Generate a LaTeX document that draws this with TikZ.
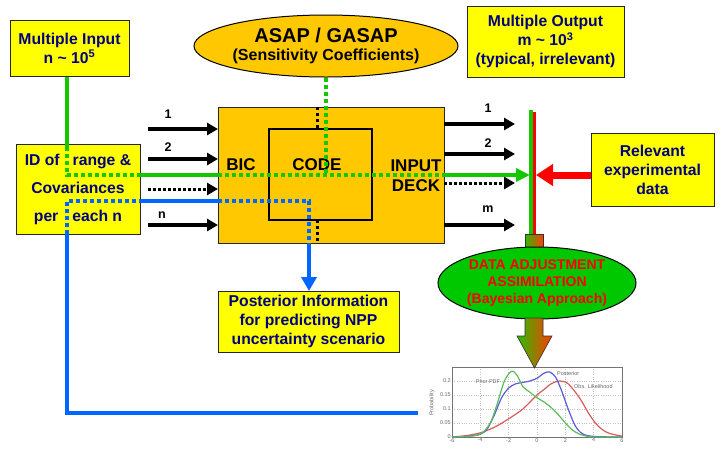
\documentclass[tikz,border=0pt]{standalone}
\usepackage{fontspec}
\setmainfont{Liberation Sans}
\usetikzlibrary{arrows.meta,shapes.geometric,calc}

\definecolor{navy}{RGB}{0,0,128}
\definecolor{boxyellow}{RGB}{255,255,0}
\definecolor{gold}{RGB}{255,200,0}
\definecolor{linegreen}{RGB}{20,200,0}
\definecolor{lineblue}{RGB}{0,102,255}
\definecolor{ellgreen}{RGB}{0,200,0}
\definecolor{shaftgreen}{RGB}{40,190,0}
\definecolor{shaftred}{RGB}{255,60,0}
\definecolor{pdfgreen}{RGB}{90,190,90}
\definecolor{pdfblue}{RGB}{90,90,220}
\definecolor{pdfred}{RGB}{220,90,90}

\tikzset{
  ybox/.style={draw=black!85, line width=0.9pt, fill=boxyellow, text=navy,
    font=\bfseries\fontsize{15.7}{19}\selectfont, align=center, inner sep=0pt},
  lbl/.style={font=\bfseries\fontsize{17}{20}\selectfont, inner sep=0pt, align=center},
  arrlbl/.style={font=\bfseries\fontsize{12.5}{14}\selectfont, inner sep=0pt},
  gsolid/.style={linegreen, line width=3.5pt},
  gdot/.style={linegreen, line width=3.5pt, dash pattern=on 4pt off 3pt},
  bsolid/.style={lineblue, line width=3.5pt},
  bdot/.style={lineblue, line width=3.5pt, dash pattern=on 4pt off 3pt},
  kdot/.style={black, line width=3pt, dash pattern=on 3pt off 3pt},
  karrow/.style={black, line width=3.5pt, -{Triangle[length=11pt,width=12pt]}},
  kdotarrow/.style={black, line width=3pt, dash pattern=on 3pt off 2pt,
    -{Triangle[length=11pt,width=12pt]}},
  gridl/.style={black!25, line width=0.4pt, dotted},
  ticklbl/.style={font=\fontsize{5.5}{6}\selectfont, text=black!60, inner sep=1pt},
  curve/.style={line width=1.2pt, smooth},
}

\begin{document}
\begin{tikzpicture}[x=1pt,y=-1pt]
\useasboundingbox (0,0) rectangle (724,448);

% ---------- boxes ----------
\node[ybox, minimum width=119pt, minimum height=56pt] (mi) at (69.5,48)
  {Multiple Input\\n \textasciitilde{} 10\textsuperscript{5}};
\node[ybox, minimum width=124pt, minimum height=90pt,
      font=\bfseries\fontsize{15.7}{28}\selectfont] (idb) at (78,189)
  {ID of\hspace{13pt}range \&\\Covariances\\per\hspace{14pt}each n};
\node[ellipse, draw=black, line width=1pt, fill=gold, minimum width=226pt,
      minimum height=62pt, inner sep=0pt, align=center,
      font=\bfseries\fontsize{16}{17.5}\selectfont] (asap) at (326,46)
  {{\fontsize{20}{20}\selectfont ASAP / GASAP}\\
   (Sensitivity Coefficients)};
\node[draw=black!85, line width=1pt, fill=gold, minimum width=226pt,
      minimum height=136pt, inner sep=0pt] (bic) at (331,175) {};
\node[draw=black, line width=2pt, minimum width=103pt, minimum height=91pt,
      inner sep=0pt] (code) at (320.5,174.5) {};
\node[lbl] (tbic) at (241,165) {BIC};
\node[lbl] (tcode) at (317,165) {CODE};
\node[lbl] (tinp) at (416,176) {INPUT\\DECK};
\node[ybox, minimum width=157pt, minimum height=71pt] (mo) at (545.5,41.5)
  {Multiple Output\\m \textasciitilde{} 10\textsuperscript{3}\\(typical, irrelevant)};
\node[ybox, minimum width=123pt, minimum height=73pt] (rel) at (652.5,169.5)
  {Relevant\\experimental\\data};
\node[ybox, minimum width=181pt, minimum height=61pt] (post) at (308.5,321.5)
  {Posterior Information\\for predicting NPP\\uncertainty scenario};

% ---------- input and output arrows ----------
\foreach \n/\yy in {i1/129,i2/159,i3/189,i4/225}{
  \coordinate (\n s) at (148,\yy); \coordinate (\n e) at (218,\yy);}
\foreach \n/\yy in {o1/124,o2/154,o3/183,o4/225}{
  \coordinate (\n s) at (444,\yy); \coordinate (\n e) at (515,\yy);}
\draw[karrow] (i1s) -- (i1e);
\draw[karrow] (i2s) -- (i2e);
\draw[kdotarrow] (i3s) -- (i3e);
\draw[karrow] (i4s) -- (i4e);
\draw[karrow] (o1s) -- (o1e);
\draw[karrow] (o2s) -- (o2e);
\draw[kdotarrow] (o3s) -- (o3e);
\draw[karrow] (o4s) -- (o4e);
\node[arrlbl] (li1) at (168,114) {1};
\node[arrlbl] (li2) at (168,147) {2};
\node[arrlbl] (li4) at (162,215) {n};
\node[arrlbl] (lo1) at (488,108) {1};
\node[arrlbl] (lo2) at (488,143) {2};
\node[arrlbl] (lo4) at (488,209) {m};

% ---------- black dotted links through the code box ----------
\coordinate (k1) at (317,107); \coordinate (k2) at (317,129);
\coordinate (k3) at (317,220); \coordinate (k4) at (317,243);
\draw[kdot] (k1) -- (k2);
\draw[kdot] (k3) -- (k4);

% ---------- green path (inputs to comparison) ----------
\coordinate (g0) at (67,77);  \coordinate (g1) at (67,147);
\coordinate (g2) at (67,175); \coordinate (g3) at (140,175);
\coordinate (g4) at (218,175); \coordinate (g5) at (444,175);
\coordinate (g6) at (530,175); \coordinate (ga) at (326,175);
\draw[gsolid] (g0) -- (g1);
\draw[gdot] (g1) -- (g2) -- (g3);
\draw[gsolid] (g3) -- (g4);
\draw[gdot] (g4) -- (g5);
\draw[gdot] (asap.south) -- (ga);
\draw[gsolid, -{Triangle[length=14pt,width=13pt]}] (g5) -- (g6);

% ---------- blue path (posterior information) ----------
\coordinate (b0) at (67,201);  \coordinate (b1) at (140,201);
\coordinate (b2) at (218,201); \coordinate (b3) at (309,201);
\coordinate (b4) at (309,243); \coordinate (b5) at (309,291);
\coordinate (b6) at (67,234);  \coordinate (b7) at (67,413);
\coordinate (b8) at (418,413);
\draw[bdot] (b6) -- (b0) -- (b1);
\draw[bsolid] (b1) -- (b2);
\draw[bdot] (b2) -- (b3) -- (b4);
\draw[bsolid, -{Triangle[length=14pt,width=15pt]}] (b4) -- (b5);
\draw[bsolid] (b6) -- (b7) -- (b8);

% ---------- comparison bar and experimental data ----------
\coordinate (v0) at (531,110); \coordinate (v1) at (531,235);
\coordinate (w0) at (534.5,112); \coordinate (w1) at (534.5,235);
\draw[linegreen, line width=3.5pt] (v0) -- (v1);
\draw[red, line width=3pt] (w0) -- (w1);
\coordinate (r0) at (591,175); \coordinate (r1) at (536,175);
\draw[red, line width=7pt, -{Triangle[length=17pt,width=21pt]}] (r0) -- (r1);

% ---------- data assimilation ----------
\draw[black!80, line width=0.6pt, left color=shaftgreen, right color=shaftred]
  (525,234) rectangle (543,252);
\node[ellipse, draw=black, line width=1pt, fill=ellgreen, minimum width=186pt,
      minimum height=72pt, inner sep=0pt, text=red, align=center,
      font=\bfseries\fontsize{14}{17}\selectfont] (da) at (537,283)
  {DATA ADJUSTMENT\\ASSIMILATION\\(Bayesian Approach)};

% ---------- probability density chart ----------
\begin{scope}[shift={(537,437)}, x=14.1667pt, y=280pt]
  \fill[white] (-6,0) rectangle (6,0.25);
  \foreach \gx in {-4,-2,0,2,4} \draw[gridl] (\gx,0) -- (\gx,0.25);
  \foreach \gy in {0.05,0.1,0.15,0.2} \draw[gridl] (-6,\gy) -- (6,\gy);
  \draw[black!55, line width=0.6pt] (-6,0) rectangle (6,0.25);
  \foreach \gx in {-6,-4,-2,0,2,4,6}
    \node[ticklbl, anchor=north] (tx\gx) at (\gx,0) {\gx};
  \foreach \gy/\gl in {0/0,0.05/0.05,0.1/0.1,0.15/0.15,0.2/0.2}
    \node[ticklbl, anchor=east] (ty\gl) at (-6,\gy) {\gl};
  \draw[curve, pdfred] plot coordinates {(-6,0) (-5,0.005) (-4,0.015) (-3,0.035)
    (-2,0.065) (-1,0.1) (0,0.15) (0.5,0.17) (1,0.19) (1.6,0.2) (2.2,0.19)
    (3,0.14) (3.7,0.08) (4.3,0.04) (5,0.015) (6,0.003)};
  \draw[curve, pdfblue] plot coordinates {(-6,0) (-5,0.002) (-4,0.01) (-3.5,0.03)
    (-3,0.08) (-2.5,0.14) (-2,0.175) (-1.5,0.19) (-1,0.195) (-0.5,0.2) (0,0.21)
    (0.5,0.228) (0.9,0.232) (1.3,0.215) (1.7,0.17) (2.2,0.1) (2.7,0.04)
    (3.2,0.012) (4,0.002) (6,0)};
  \draw[curve, pdfgreen] plot coordinates {(-6,0) (-5,0.002) (-4,0.01) (-3.3,0.05)
    (-2.8,0.12) (-2.3,0.2) (-1.8,0.235) (-1.4,0.22) (-1,0.18) (-0.5,0.16)
    (0,0.14) (0.5,0.125) (1,0.105) (1.5,0.08) (2,0.05) (2.5,0.025) (3,0.01)
    (3.5,0.003) (4,0) (6,0)};
\end{scope}
\node[ticklbl, rotate=90] (ylab) at (432,403) {Probability};
\node[ticklbl] (lprior) at (488,382) {Prior PDF};
\node[ticklbl, anchor=west] (lpost) at (556,374) {Posterior};
\node[ticklbl, anchor=west] (lobs) at (573,387) {Obs. Likelihood};

% ---------- gradient arrow into the chart ----------
\draw[black!80, line width=0.6pt, left color=shaftgreen, right color=shaftred]
  (525,318) -- (543,318) -- (543,336) -- (552,336) -- (534.5,368)
  -- (517,336) -- (525,336) -- cycle;
\end{tikzpicture}
\end{document}
